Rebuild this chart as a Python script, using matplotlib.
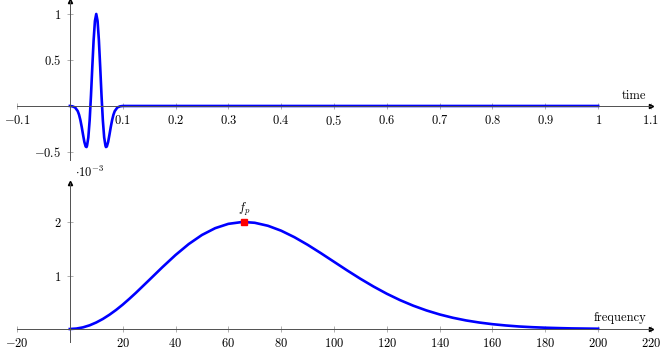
import numpy as np
import matplotlib
matplotlib.use("Agg")
import matplotlib.pyplot as plt

plt.rcParams['mathtext.fontset'] = 'cm'
plt.rcParams['font.family'] = 'serif'
plt.rcParams['font.serif'] = ['cmr10', 'DejaVu Serif']
plt.rcParams['axes.unicode_minus'] = False

# wavelet in time
time_t = [0.0, 0.005, 0.01, 0.015, 0.0175, 0.02, 0.0225, 0.025, 0.0275, 0.03, 0.0316,
          0.0325, 0.035, 0.0375, 0.04, 0.0425, 0.045, 0.0475,
          0.05, 0.0525, 0.055, 0.0575, 0.06, 0.0625, 0.065, 0.0675, 0.0684, 0.07,
          0.0725, 0.075, 0.0775, 0.08, 0.0825, 0.085, 0.09, 0.095,
          0.1, 0.12, 1.0]
time_amp = [0.0, -0.004, -0.016, -0.056, -0.096, -0.154, -0.228, -0.312, -0.391, -0.441, -0.446,
            -0.433, -0.342, -0.157, 0.111, 0.421, 0.714, 0.924,
            1.0, 0.924, 0.714, 0.421, 0.111, -0.157, -0.342, -0.433, -0.446, -0.441,
            -0.391, -0.312, -0.228, -0.154, -0.096, -0.056, -0.016, -0.004,
            0.0, 0.0, 0.0]

# spectrum (units of 1e-3)
freq_f = [0, 2.5, 5, 7.5, 10, 12.5, 15, 17.5, 20, 22.5, 25, 30, 35, 40, 45, 50, 55, 60,
          65, 66, 70, 75, 80, 85, 90, 95, 100, 105, 110, 115, 120, 125, 130, 135, 140,
          145, 150, 155, 160, 165, 170, 175, 180, 185, 190, 195, 200]
freq_amp = [0.0, 0.008, 0.031, 0.069, 0.122, 0.188, 0.267, 0.356, 0.455, 0.563, 0.676,
            0.914, 1.154, 1.383, 1.588, 1.758, 1.885, 1.966,
            1.999, 2.0, 1.986, 1.930, 1.838, 1.717, 1.575, 1.419, 1.257, 1.095, 0.939,
            0.793, 0.659, 0.540, 0.436, 0.347, 0.272, 0.210, 0.160, 0.121, 0.090,
            0.066, 0.047, 0.034, 0.024, 0.017, 0.011, 0.008, 0.005]
peak_f = 66
peak_amp = 2.0

time_ticks = [-0.1, 0.1, 0.2, 0.3, 0.4, 0.5, 0.6, 0.7, 0.8, 0.9, 1, 1.1]
time_yticks = [-0.5, 0.5, 1]
freq_ticks = [-20, 20, 40, 60, 80, 100, 120, 140, 160, 180, 200, 220]
freq_yticks = [1, 2]

W, H = 665, 350
fig = plt.figure(figsize=(W / 100, H / 100), dpi=100)
axcol = '#505050'


def style(ax, xt, yt):
    for s in ['top', 'right']:
        ax.spines[s].set_visible(False)
    for s in ['left', 'bottom']:
        ax.spines[s].set_position(('data', 0))
        ax.spines[s].set_color(axcol)
        ax.spines[s].set_linewidth(0.7)
    ax.set_xticks(xt)
    ax.set_xticklabels([f'${v:g}$' for v in xt])
    ax.set_yticks(yt)
    ax.set_yticklabels([f'${v:g}$' for v in yt])
    ax.tick_params(direction='inout', length=4, width=0.5, color='#909090',
                   labelsize=9, pad=4)
    ax.plot(1, 0, '>', color='black', ms=3, transform=ax.get_yaxis_transform(), clip_on=False)
    ax.plot(0, 1, '^', color='black', ms=3, transform=ax.get_xaxis_transform(), clip_on=False)
    ax.patch.set_visible(False)


ax1 = fig.add_axes([17 / W, (H - 160) / H, 634 / W, 159 / H])
ax1.plot(time_t, time_amp, color='blue', lw=1.9, solid_joinstyle='round')
ax1.set_xlim(-0.1, 1.1)
ax1.set_ylim(-0.587, 1.141)
style(ax1, time_ticks, time_yticks)
ax1.annotate('time', xy=(1.1, 0), xytext=(-5, 4), textcoords='offset pixels',
             ha='right', va='bottom', fontsize=9)

ax2 = fig.add_axes([17 / W, 8 / H, 634 / W, 159 / H])
ax2.plot(freq_f, freq_amp, color='blue', lw=1.9, solid_joinstyle='round')
ax2.plot([peak_f], [peak_amp], 's', color='red', ms=4, mec='red')
ax2.set_xlim(-20, 220)
ax2.set_ylim(-0.243, 2.73)
style(ax2, freq_ticks, freq_yticks)
ax2.annotate('frequency', xy=(220, 0), xytext=(-5, 5), textcoords='offset pixels',
             ha='right', va='bottom', fontsize=9)
ax2.annotate('$f_p$', xy=(peak_f, peak_amp), xytext=(0, 4), textcoords='offset pixels',
             ha='center', va='bottom', fontsize=9)
fig.text(75 / W, 1 - 172 / H, r'$\cdot 10^{-3}$', ha='left', va='center', fontsize=9)

fig.savefig('out.png', dpi=100)
